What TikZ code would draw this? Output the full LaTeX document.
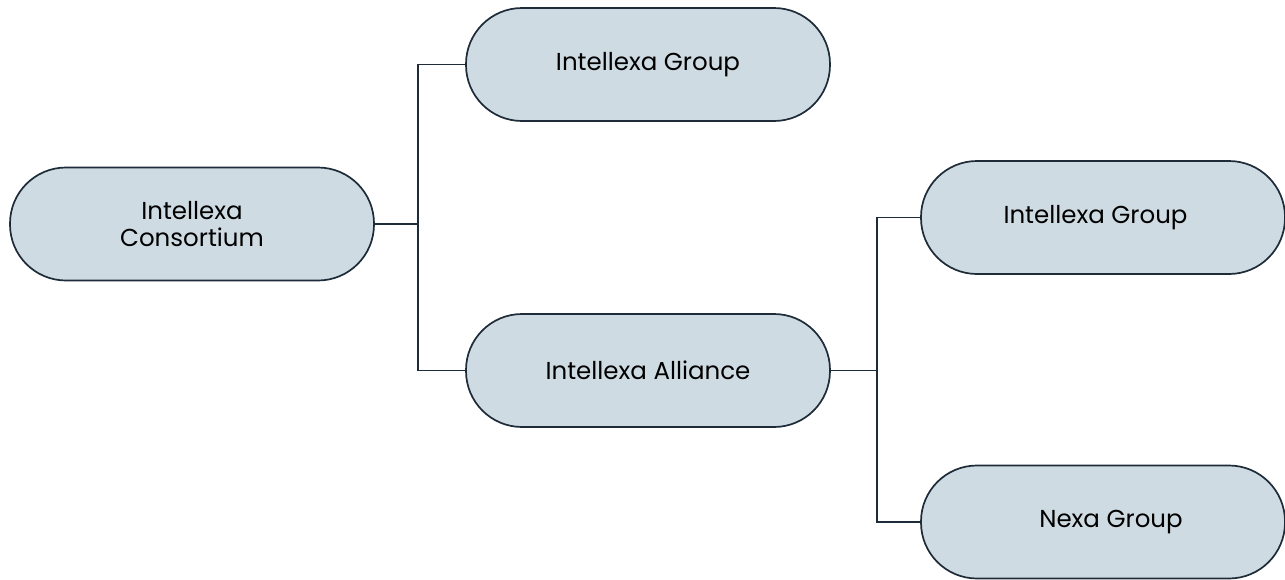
\documentclass[tikz,border=0pt]{standalone}
\usepackage{fontspec}
\setmainfont{Poppins}
\definecolor{boxfill}{HTML}{CFDBE3}
\definecolor{boxline}{HTML}{1E2B38}
\begin{document}
\begin{tikzpicture}[x=1pt,y=-1pt,
  pill/.style={draw=boxline, fill=boxfill, line width=1.7pt,
    rounded corners=56pt, minimum width=364pt, minimum height=113pt,
    align=center, font=\fontsize{24.5}{27}\selectfont, text=black, inner sep=0pt},
  link/.style={draw=boxline, line width=1.7pt}]
\useasboundingbox (0,0) rectangle (1285,579);
\node[pill] (cons) at (192,224) {Intellexa\\Consortium};
\node[pill] (topg) at (648,64.5) {Intellexa Group};
\node[pill] (alli) at (648,370.5) {Intellexa Alliance};
\node[pill] (rgrp) at (1103,217.5) {Intellexa Group\hspace*{15pt}};
\node[pill] (nexa) at (1103,522) {\hspace*{16pt}Nexa Group};
\coordinate (j1) at (418,224);
\coordinate (j2) at (877,370.5);
\draw[link] (cons.east) -- (j1);
\draw[link] (topg.west) -| (j1) |- (alli.west);
\draw[link] (alli.east) -- (j2);
\draw[link] (rgrp.west) -| (j2) |- (nexa.west);
\end{tikzpicture}
\end{document}
